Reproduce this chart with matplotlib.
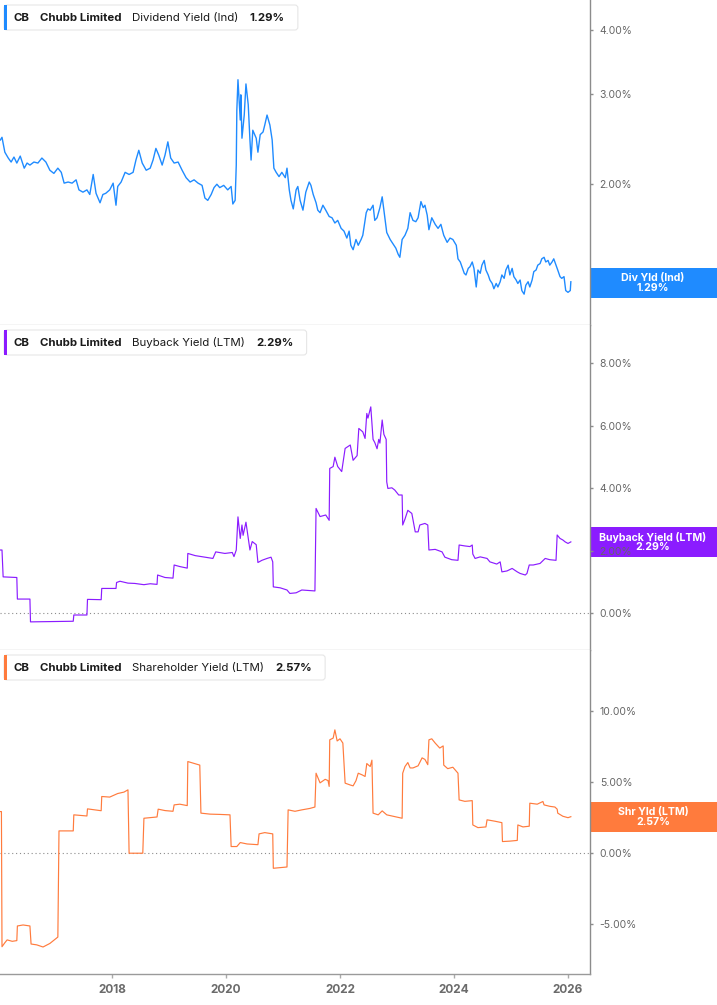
import matplotlib
matplotlib.use("Agg")
import matplotlib.pyplot as plt
from matplotlib.patches import FancyBboxPatch, Rectangle
from matplotlib.transforms import IdentityTransform

plt.rcParams['font.family'] = ['Inter', 'DejaVu Sans']

# ---- data (year, percent) ----
div_yield = [
    (2016.04, 2.44), (2016.07, 2.47), (2016.12, 2.31), (2016.18, 2.25), (2016.23, 2.21), (2016.28, 2.26),
    (2016.33, 2.20), (2016.39, 2.27), (2016.46, 2.15), (2016.51, 2.20), (2016.56, 2.18), (2016.63, 2.21),
    (2016.70, 2.20), (2016.77, 2.25), (2016.84, 2.21), (2016.91, 2.13), (2016.98, 2.10), (2017.05, 2.15),
    (2017.11, 2.11), (2017.16, 2.01), (2017.23, 2.02), (2017.30, 2.01), (2017.37, 2.04), (2017.42, 1.95),
    (2017.49, 1.93), (2017.56, 1.95), (2017.61, 1.91), (2017.67, 2.09), (2017.72, 1.92), (2017.79, 1.84),
    (2017.84, 1.91), (2017.89, 1.92), (2017.96, 1.95), (2018.02, 2.01), (2018.07, 1.82), (2018.10, 1.98),
    (2018.16, 2.02), (2018.23, 2.11), (2018.30, 2.09), (2018.37, 2.11), (2018.42, 2.23), (2018.47, 2.33),
    (2018.53, 2.20), (2018.60, 2.13), (2018.67, 2.15), (2018.72, 2.23), (2018.77, 2.35), (2018.82, 2.28),
    (2018.88, 2.18), (2018.93, 2.28), (2018.98, 2.42), (2019.03, 2.25), (2019.09, 2.20), (2019.16, 2.21),
    (2019.23, 2.13), (2019.30, 2.06), (2019.37, 2.02), (2019.44, 2.04), (2019.51, 2.01), (2019.58, 1.99),
    (2019.63, 1.88), (2019.68, 1.86), (2019.74, 1.91), (2019.79, 1.97), (2019.84, 2.00), (2019.89, 1.97),
    (2019.96, 1.99), (2020.03, 1.95), (2020.09, 1.98), (2020.12, 1.83), (2020.16, 1.86), (2020.18, 2.18),
    (2020.19, 2.79), (2020.21, 3.20), (2020.23, 2.92), (2020.25, 2.67), (2020.26, 2.99), (2020.28, 2.46),
    (2020.32, 2.73), (2020.35, 3.14), (2020.39, 2.86), (2020.42, 2.44), (2020.44, 2.23), (2020.47, 2.55),
    (2020.53, 2.46), (2020.56, 2.31), (2020.60, 2.50), (2020.65, 2.53), (2020.68, 2.61), (2020.72, 2.73),
    (2020.77, 2.61), (2020.81, 2.44), (2020.84, 2.15), (2020.88, 2.11), (2020.93, 2.07), (2020.98, 2.11),
    (2021.04, 2.06), (2021.07, 2.15), (2021.11, 1.95), (2021.14, 1.86), (2021.18, 1.79), (2021.23, 1.95),
    (2021.26, 1.98), (2021.30, 1.86), (2021.35, 1.78), (2021.40, 1.93), (2021.46, 2.02), (2021.49, 1.99),
    (2021.53, 1.91), (2021.58, 1.84), (2021.61, 1.78), (2021.65, 1.76), (2021.70, 1.82), (2021.75, 1.78),
    (2021.81, 1.73), (2021.86, 1.72), (2021.91, 1.68), (2021.96, 1.70), (2022.02, 1.64), (2022.07, 1.62),
    (2022.12, 1.57), (2022.16, 1.62), (2022.19, 1.52), (2022.23, 1.49), (2022.28, 1.56), (2022.32, 1.52),
    (2022.37, 1.56), (2022.40, 1.59), (2022.46, 1.76), (2022.49, 1.79), (2022.53, 1.78), (2022.58, 1.82),
    (2022.61, 1.70), (2022.65, 1.72), (2022.70, 1.80), (2022.74, 1.89), (2022.77, 1.78), (2022.82, 1.61),
    (2022.88, 1.56), (2022.93, 1.53), (2022.98, 1.50), (2023.02, 1.46), (2023.05, 1.44), (2023.09, 1.56),
    (2023.14, 1.59), (2023.19, 1.64), (2023.23, 1.76), (2023.28, 1.70), (2023.33, 1.69), (2023.37, 1.72),
    (2023.42, 1.85), (2023.46, 1.80), (2023.49, 1.82), (2023.53, 1.74), (2023.56, 1.63), (2023.61, 1.72),
    (2023.67, 1.67), (2023.72, 1.64), (2023.77, 1.67), (2023.82, 1.59), (2023.88, 1.54), (2023.93, 1.57),
    (2023.98, 1.56), (2024.04, 1.52), (2024.07, 1.43), (2024.11, 1.41), (2024.14, 1.38), (2024.18, 1.34),
    (2024.21, 1.33), (2024.25, 1.37), (2024.28, 1.38), (2024.32, 1.41), (2024.35, 1.37), (2024.39, 1.26),
    (2024.42, 1.36), (2024.46, 1.34), (2024.49, 1.39), (2024.53, 1.42), (2024.56, 1.36), (2024.60, 1.33),
    (2024.63, 1.30), (2024.67, 1.28), (2024.70, 1.25), (2024.74, 1.28), (2024.77, 1.26), (2024.81, 1.29),
    (2024.84, 1.33), (2024.88, 1.31), (2024.91, 1.36), (2024.95, 1.39), (2024.98, 1.33), (2025.02, 1.37),
    (2025.05, 1.32), (2025.09, 1.30), (2025.12, 1.28), (2025.16, 1.30), (2025.19, 1.24), (2025.23, 1.22),
    (2025.26, 1.27), (2025.30, 1.29), (2025.33, 1.26), (2025.37, 1.30), (2025.40, 1.35), (2025.44, 1.36),
    (2025.47, 1.39), (2025.51, 1.40), (2025.54, 1.43), (2025.58, 1.44), (2025.61, 1.41), (2025.65, 1.42),
    (2025.68, 1.39), (2025.72, 1.41), (2025.75, 1.43), (2025.79, 1.39), (2025.82, 1.36), (2025.86, 1.32),
    (2025.89, 1.31), (2025.93, 1.32), (2025.96, 1.24), (2026.00, 1.23), (2026.04, 1.24), (2026.05, 1.29),
]

buyback_yield = [
    (2016.04, 2.03), (2016.07, 2.03), (2016.09, 1.17), (2016.33, 1.15), (2016.34, 0.46), (2016.56, 0.46),
    (2016.57, -0.27), (2016.91, -0.26), (2017.32, -0.25), (2017.33, -0.05), (2017.56, -0.05), (2017.57, 0.45),
    (2017.81, 0.44), (2017.82, 0.80), (2018.07, 0.80), (2018.08, 0.99), (2018.14, 1.03), (2018.28, 0.97),
    (2018.40, 0.96), (2018.56, 0.92), (2018.67, 0.95), (2018.79, 0.93), (2018.80, 1.23), (2018.93, 1.15),
    (2019.07, 1.13), (2019.09, 1.55), (2019.19, 1.50), (2019.32, 1.45), (2019.33, 1.92), (2019.46, 1.85),
    (2019.63, 1.80), (2019.77, 1.76), (2019.82, 1.97), (2019.98, 1.92), (2020.11, 1.95), (2020.14, 1.82),
    (2020.18, 2.03), (2020.21, 3.09), (2020.25, 2.40), (2020.28, 2.83), (2020.30, 2.50), (2020.35, 2.92),
    (2020.39, 2.40), (2020.42, 2.03), (2020.46, 2.30), (2020.53, 2.20), (2020.56, 1.63), (2020.63, 1.70),
    (2020.72, 1.76), (2020.79, 1.80), (2020.82, 1.65), (2020.83, 0.85), (2020.95, 0.82), (2021.07, 0.75),
    (2021.12, 0.64), (2021.23, 0.66), (2021.33, 0.75), (2021.56, 0.72), (2021.58, 3.36), (2021.65, 3.10),
    (2021.75, 3.15), (2021.81, 2.98), (2021.82, 4.64), (2021.88, 4.70), (2021.91, 5.00), (2021.96, 4.70),
    (2022.03, 4.54), (2022.09, 5.28), (2022.18, 5.39), (2022.23, 4.90), (2022.30, 5.05), (2022.33, 5.92),
    (2022.40, 5.81), (2022.44, 5.60), (2022.47, 6.40), (2022.49, 6.25), (2022.54, 6.61), (2022.58, 5.57),
    (2022.61, 5.47), (2022.65, 5.27), (2022.68, 5.57), (2022.70, 5.45), (2022.74, 6.19), (2022.77, 5.73),
    (2022.81, 5.57), (2022.82, 4.21), (2022.84, 4.00), (2022.91, 4.02), (2022.96, 3.95), (2023.03, 3.79),
    (2023.09, 3.79), (2023.10, 2.83), (2023.14, 3.02), (2023.19, 3.30), (2023.26, 3.20), (2023.32, 2.61),
    (2023.37, 2.61), (2023.40, 2.83), (2023.49, 2.88), (2023.54, 2.83), (2023.56, 2.03), (2023.67, 2.05),
    (2023.79, 1.97), (2023.84, 1.80), (2023.96, 1.72), (2024.07, 1.70), (2024.09, 2.19), (2024.19, 2.16),
    (2024.28, 2.14), (2024.32, 2.19), (2024.33, 1.90), (2024.37, 1.76), (2024.46, 1.81), (2024.58, 1.76),
    (2024.63, 1.65), (2024.75, 1.58), (2024.81, 1.65), (2024.84, 1.33), (2024.93, 1.36), (2025.02, 1.44),
    (2025.11, 1.33), (2025.16, 1.28), (2025.25, 1.23), (2025.28, 1.28), (2025.32, 1.55), (2025.39, 1.55),
    (2025.51, 1.60), (2025.60, 1.76), (2025.68, 1.72), (2025.79, 1.70), (2025.81, 2.51), (2025.86, 2.40),
    (2025.91, 2.35), (2025.95, 2.29), (2026.00, 2.24), (2026.05, 2.29),
]

shareholder_yield = [
    (2016.04, 2.93), (2016.06, 2.93), (2016.07, -6.58), (2016.12, -6.30), (2016.16, -6.10), (2016.25, -6.20),
    (2016.33, -6.15), (2016.34, -5.12), (2016.44, -5.05), (2016.56, -5.12), (2016.58, -6.39), (2016.68, -6.45),
    (2016.79, -6.60), (2016.91, -6.35), (2017.05, -5.90), (2017.07, 1.57), (2017.32, 1.57), (2017.33, 2.70),
    (2017.56, 2.62), (2017.57, 3.12), (2017.70, 3.05), (2017.81, 2.99), (2017.82, 3.99), (2017.96, 3.95),
    (2018.10, 4.20), (2018.21, 4.30), (2018.28, 4.46), (2018.30, 0.00), (2018.54, 0.00), (2018.56, 2.46),
    (2018.67, 2.50), (2018.79, 2.55), (2018.81, 3.10), (2018.93, 3.00), (2019.07, 2.95), (2019.09, 3.40),
    (2019.19, 3.45), (2019.32, 3.35), (2019.33, 6.45), (2019.46, 6.30), (2019.54, 6.20), (2019.56, 2.82),
    (2019.72, 2.75), (2019.89, 2.73), (2020.07, 2.70), (2020.09, 0.47), (2020.19, 0.47), (2020.25, 0.75),
    (2020.37, 0.65), (2020.56, 0.60), (2020.58, 1.36), (2020.68, 1.45), (2020.82, 1.36), (2020.83, -1.06),
    (2021.07, -0.97), (2021.09, 3.05), (2021.21, 2.95), (2021.33, 3.05), (2021.47, 3.15), (2021.56, 3.25),
    (2021.58, 5.63), (2021.65, 4.95), (2021.74, 5.20), (2021.79, 5.11), (2021.81, 4.70), (2021.82, 7.98),
    (2021.88, 8.10), (2021.91, 8.68), (2021.95, 7.90), (2022.00, 8.05), (2022.05, 7.75), (2022.09, 4.93),
    (2022.18, 4.80), (2022.23, 4.74), (2022.28, 5.10), (2022.32, 5.63), (2022.39, 5.51), (2022.44, 5.40),
    (2022.47, 6.31), (2022.53, 6.10), (2022.56, 6.55), (2022.58, 2.82), (2022.67, 2.70), (2022.74, 2.98),
    (2022.82, 2.70), (2022.91, 2.62), (2023.05, 2.50), (2023.09, 2.46), (2023.10, 5.63), (2023.14, 6.10),
    (2023.19, 6.38), (2023.23, 6.00), (2023.28, 6.00), (2023.37, 6.15), (2023.44, 6.71), (2023.49, 6.60),
    (2023.54, 6.23), (2023.56, 7.98), (2023.61, 8.05), (2023.67, 7.75), (2023.75, 7.40), (2023.81, 7.55),
    (2023.82, 6.20), (2023.89, 5.95), (2023.98, 6.05), (2024.07, 5.63), (2024.09, 3.75), (2024.19, 3.65),
    (2024.32, 3.70), (2024.33, 1.99), (2024.42, 1.80), (2024.56, 1.85), (2024.58, 2.35), (2024.72, 2.25),
    (2024.84, 2.15), (2024.85, 0.82), (2024.98, 0.85), (2025.11, 0.90), (2025.12, 1.99), (2025.21, 1.85),
    (2025.32, 1.90), (2025.33, 3.52), (2025.46, 3.45), (2025.56, 3.64), (2025.58, 3.40), (2025.68, 3.30),
    (2025.77, 3.25), (2025.81, 3.10), (2025.82, 2.82), (2025.91, 2.60), (2026.00, 2.50), (2026.05, 2.57),
]

metric_names = ["Dividend Yield (Ind)", "Buyback Yield (LTM)", "Shareholder Yield (LTM)"]
short_names = ["Div Yld (Ind)", "Buyback Yield (LTM)", "Shr Yld (LTM)"]
last_values = [1.29, 2.29, 2.57]
year_ticks = [2018, 2020, 2022, 2024, 2026]
div_ticks = [2, 3, 4]
buyback_ticks = [0, 2, 4, 6, 8]
shr_ticks = [-5, 0, 5, 10]

colors = ["#1f8bff", "#8b1cff", "#ff7b3d"]

# ---- layout in pixels ----
W, H = 717, 1005
fig = plt.figure(figsize=(W / 100, H / 100), dpi=100)
px = IdentityTransform()

def fy(y):
    return H - y

x_right = 590
panels = [(0, 325), (325, 650), (650, 974)]
axes = []
for top, bot in panels:
    ax = fig.add_axes([0, (H - bot) / H, x_right / W, (bot - top) / H])
    axes.append(ax)

ax1, ax2, ax3 = axes
series = [div_yield, buyback_yield, shareholder_yield]
for ax, data, c in zip(axes, series, colors):
    xs = [d[0] for d in data]
    ys = [d[1] for d in data]
    ax.plot(xs, ys, color=c, lw=1.0 if ax is ax1 else 0.85)
    ax.set_xlim(2016.035, 2026.386)
    for s in ["top", "left"]:
        ax.spines[s].set_visible(False)
    ax.spines["right"].set_color("#8c8c8c")
    ax.spines["right"].set_linewidth(1)
    ax.yaxis.tick_right()
    ax.tick_params(axis="y", which="major", length=2, width=1, color="#8c8c8c",
                   labelsize=7.5, labelcolor="#666666", pad=5)
    ax.tick_params(axis="y", which="minor", length=0, labelright=False)

# dividend: log scale
ax1.set_yscale("log")
ax1.set_ylim(1.062, 4.58)
ax1.set_yticks(div_ticks)
ax1.set_yticklabels([f"{v:.2f}%" for v in div_ticks])
ax1.yaxis.set_minor_locator(matplotlib.ticker.NullLocator())

ax2.set_ylim(-1.17, 9.23)
ax2.set_yticks(buyback_ticks)
ax2.set_yticklabels([f"{v:.2f}%" for v in buyback_ticks])

ax3.set_ylim(-8.5, 14.3)
ax3.set_yticks(shr_ticks)
ax3.set_yticklabels([f"{v:.2f}%" for v in shr_ticks])

for ax in (ax2, ax3):
    ax.axhline(0, color="#8c8c8c", lw=0.8, ls=(0, (1, 2.5)), zorder=1)

for ax in (ax1, ax2):
    ax.spines["bottom"].set_color("#cfcfcf")
    ax.spines["bottom"].set_linewidth(1)
    ax.tick_params(axis="x", length=0, labelbottom=False)

ax3.spines["bottom"].set_color("#9a9a9a")
ax3.spines["bottom"].set_linewidth(1)
ax3.set_xticks(year_ticks)
ax3.set_xticklabels([str(y) for y in year_ticks])
ax3.tick_params(axis="x", length=3, width=1, color="#aaaaaa", labelsize=8.5,
                labelcolor="#6b6b6b", pad=4.5)
for lbl in ax3.get_xticklabels():
    lbl.set_fontweight("bold")

# ---- value tags on the right ----
tag_centers = [282.5, 542, 817]
for yc, c, name, val in zip(tag_centers, colors, short_names, last_values):
    fig.patches.append(Rectangle((x_right, fy(yc + 15)), W - x_right, 30, transform=px,
                                 facecolor=c, edgecolor="none", zorder=-1))
    fig.text(653, fy(yc - 5), name, transform=px, ha="center", va="center",
             color="white", fontsize=7.6, fontweight="bold", zorder=5)
    fig.text(653, fy(yc + 5), f"{val:.2f}%", transform=px, ha="center", va="center",
             color="white", fontsize=7.6, fontweight="bold", zorder=5)

# ---- legend chips at top-left of each panel ----
renderer = fig.canvas.get_renderer()
for (top, _), c, name, val in zip(panels, colors, metric_names, last_values):
    parts = [("CB", "bold"), ("Chubb Limited", "bold"), (name, "normal"), (f"{val:.2f}%", "bold")]
    x = 13
    for txt, wt in parts:
        t = fig.text(x, fy(top + 20.7), txt, transform=px, ha="left", va="baseline",
                     fontsize=8.25, fontweight=wt, color="#1a1a1a", zorder=6)
        bb = t.get_window_extent(renderer)
        x = bb.x1 + 11
    x_end = x - 11 + 13
    box = FancyBboxPatch((4, fy(top + 30)), x_end - 4, 25, transform=px,
                         boxstyle="round,pad=0,rounding_size=3",
                         facecolor="white", edgecolor="#e6e6e6", lw=0.8, zorder=4)
    fig.patches.append(box)
    fig.patches.append(Rectangle((4, fy(top + 30)), 3, 25, transform=px,
                                 facecolor=c, edgecolor="none", zorder=5))

fig.savefig("out.png", dpi=100)
